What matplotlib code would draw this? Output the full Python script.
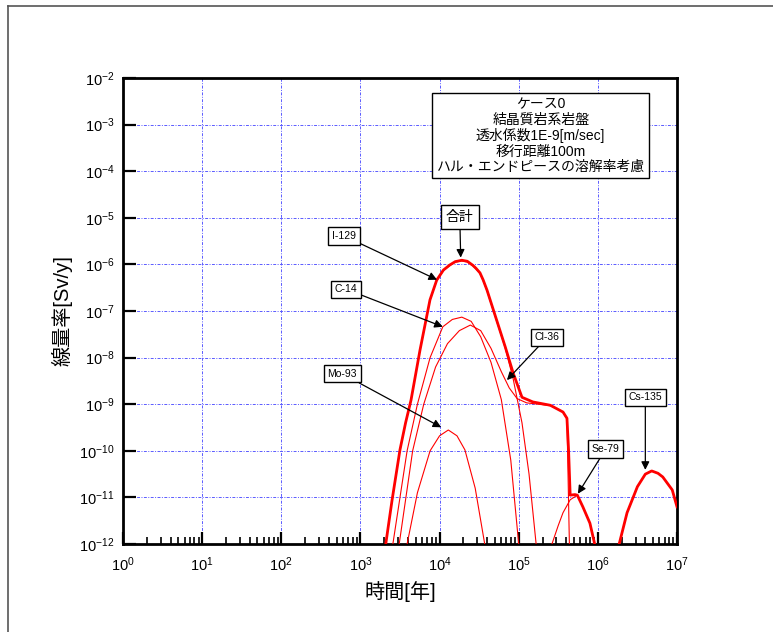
import matplotlib
matplotlib.use('Agg')
import matplotlib.pyplot as plt
from matplotlib.lines import Line2D
from matplotlib.ticker import LogLocator, NullLocator
import numpy as np

plt.rcParams['font.family'] = ['Liberation Sans', 'Noto Sans CJK JP', 'DejaVu Sans']

# ---- data (time [y], dose rate [Sv/y]) ----
total_t = [2090, 2510, 3160, 3720, 4360, 5660, 7570, 9200, 1.12e4, 1.35e4,
           1.58e4, 1.91e4, 2.24e4, 2.63e4, 2.88e4, 3.24e4, 3.55e4, 3.98e4,
           4.79e4, 5.75e4, 6.76e4, 8.51e4, 1.10e5, 1.51e5, 2.51e5, 3.63e5,
           4.07e5, 4.27e5, 4.47e5, 5.13e5, 5.50e5, 6.46e5, 7.94e5, 9.12e5, np.nan,
           1.86e6, 2.34e6, 3.16e6, 3.98e6, 4.79e6, 5.75e6, 6.61e6, 8.71e6, 1.0e7]
total_d = [1e-12, 8.7e-12, 1.05e-10, 3.98e-10, 1.23e-9, 1.45e-8, 1.74e-7,
           4.6e-7, 7.6e-7, 9.77e-7, 1.15e-6, 1.23e-6, 1.17e-6, 9.6e-7, 8.3e-7,
           6.6e-7, 4.68e-7, 2.8e-7, 1.05e-7, 4.0e-8, 1.7e-8, 4.68e-9, 1.41e-9,
           1.12e-9, 9.5e-10, 6.8e-10, 5.0e-10, 1.0e-10, 1.12e-11, 1.15e-11,
           1.12e-11, 6.3e-12, 2.8e-12, 1e-12, np.nan,
           1e-12, 4.7e-12, 1.7e-11, 3.16e-11, 3.7e-11, 3.3e-11, 2.75e-11,
           1.45e-11, 6.3e-12]

i129_t = [2090, 2510, 3160, 3720, 4360, 5660, 7570, 9200, 1.12e4, 1.35e4,
          1.58e4, 1.91e4, 2.24e4, 2.63e4, 2.88e4, 3.24e4, 3.55e4, 3.98e4,
          4.79e4, 5.75e4, 6.76e4, 8.51e4, 1.10e5, 1.35e5, 1.66e5]
i129_d = [1e-12, 8.7e-12, 1.05e-10, 3.98e-10, 1.23e-9, 1.45e-8, 1.7e-7,
          4.5e-7, 7.4e-7, 9.5e-7, 1.12e-6, 1.19e-6, 1.13e-6, 9.3e-7, 8.0e-7,
          6.4e-7, 4.5e-7, 2.7e-7, 1.0e-7, 3.8e-8, 1.6e-8, 3.5e-9, 4.0e-10,
          3.2e-11, 1e-12]

c14_t = [2570, 3890, 5250, 7590, 1.10e4, 1.45e4, 1.91e4, 2.51e4, 3.31e4,
         4.47e4, 6.03e4, 7.94e4, 1.0e5]
c14_d = [1e-12, 1e-10, 1e-9, 1e-8, 4.6e-8, 6.6e-8, 7.4e-8, 6.0e-8, 2.8e-8,
         7.9e-9, 1.26e-9, 6.3e-11, 1e-12]

cl36_t = [3090, 4570, 6310, 8910, 1.26e4, 1.78e4, 2.45e4, 3.31e4, 4.47e4,
          6.03e4, 7.59e4, 9.55e4, 1.26e5, 1.78e5, 2.51e5, 3.63e5, 4.07e5, 4.37e5]
cl36_d = [1e-12, 1e-10, 1e-9, 6.3e-9, 2.0e-8, 3.8e-8, 5.0e-8, 3.8e-8, 1.58e-8,
          5.0e-9, 2.24e-9, 1.32e-9, 1.07e-9, 1.0e-9, 9.3e-10, 6.8e-10, 4.8e-10,
          1e-12]

mo93_t = [3890, 5250, 7590, 1.0e4, 1.29e4, 1.66e4, 2.09e4, 2.82e4, 3.72e4]
mo93_d = [1e-12, 1.26e-11, 1e-10, 2.1e-10, 2.8e-10, 2.1e-10, 1.05e-10, 1.58e-11, 1e-12]

se79_t = [2.63e5, 3.16e5, 3.63e5, 4.47e5, 5.50e5, 6.46e5, 7.94e5, 9.12e5]
se79_d = [1e-12, 2.5e-12, 4.7e-12, 8.9e-12, 1.12e-11, 6.3e-12, 2.8e-12, 1e-12]

cs135_t = [1.86e6, 2.34e6, 3.16e6, 3.98e6, 4.79e6, 5.75e6, 6.61e6, 8.71e6, 1.0e7]
cs135_d = [1e-12, 4.7e-12, 1.7e-11, 3.16e-11, 3.7e-11, 3.3e-11, 2.75e-11, 1.45e-11, 6.3e-12]

# labels: (text, text position, arrow target)
labels = [
    ('合計', (1.8e4, 1.05e-5), (1.85e4, 1.4e-6)),
    ('I-129', (6.2e2, 4.1e-6), (9.3e3, 4.7e-7)),
    ('C-14', (6.6e2, 2.95e-7), (1.1e4, 4.6e-8)),
    ('Cl-36', (2.3e5, 2.75e-8), (7.1e4, 3.3e-9)),
    ('Mo-93', (5.9e2, 4.5e-9), (1.05e4, 3.2e-10)),
    ('Se-79', (1.26e6, 1.1e-10), (5.6e5, 1.2e-11)),
    ('Cs-135', (3.98e6, 1.4e-9), (3.98e6, 3.9e-11)),
]

info_text = 'ケース0\n結晶質岩系岩盤\n透水係数1E-9[m/sec]\n移行距離100m\nハル・エンドピースの溶解率考慮'

fig = plt.figure(figsize=(7.73, 6.32), dpi=100)
ax = fig.add_axes([0.1591, 0.1392, 0.7167, 0.7373])

red = '#ff0000'
for t, d in [(i129_t, i129_d), (c14_t, c14_d), (cl36_t, cl36_d),
             (mo93_t, mo93_d), (se79_t, se79_d), (cs135_t, cs135_d)]:
    ax.plot(t, d, color=red, linewidth=0.8, zorder=3)
ax.plot(total_t, total_d, color=red, linewidth=2.0, zorder=4)

ax.set_xscale('log')
ax.set_yscale('log')
ax.set_xlim(1, 1e7)
ax.set_ylim(1e-12, 1e-2)
ax.set_xticks([10.0**k for k in range(0, 8)])
ax.set_yticks([10.0**k for k in range(-12, -1)])
ax.xaxis.set_minor_locator(LogLocator(base=10, subs=np.arange(2, 10)))
ax.yaxis.set_minor_locator(NullLocator())

ax.grid(True, which='major', color='#5b5bff', linestyle=(0, (3, 1.5, 1, 1.5)),
        linewidth=0.7, zorder=1)
ax.tick_params(which='major', direction='in', length=9, width=1.6,
               labelsize=10.5, top=False, right=False)
ax.tick_params(axis='x', which='major', pad=8)
ax.tick_params(axis='y', which='major', pad=6)
ax.tick_params(which='minor', direction='in', length=5, width=1.2,
               top=False, right=False)
for s in ax.spines.values():
    s.set_linewidth(2.0)

ax.set_xlabel('時間[年]', fontsize=14.5, labelpad=5)
ax.set_ylabel('線量率[Sv/y]', fontsize=14.5, labelpad=5)

for name, xy_text, xy_target in labels:
    ax.annotate(name, xy=xy_target, xytext=xy_text,
                ha='center', va='center',
                fontsize=10 if name == '合計' else 7.5,
                bbox=dict(boxstyle='square,pad=0.35', facecolor='white',
                          edgecolor='black', linewidth=1.0),
                arrowprops=dict(arrowstyle='-|>', color='black', linewidth=0.9,
                                mutation_scale=12, shrinkA=0, shrinkB=0),
                zorder=6)

ax.text(0.754, 0.876, info_text, transform=ax.transAxes, ha='center',
        va='center', fontsize=10, linespacing=1.12, zorder=6,
        bbox=dict(boxstyle='square,pad=0.3', facecolor='white',
                  edgecolor='black', linewidth=1.0))

# outer frame (left and top edges visible)
fig.add_artist(Line2D([8 / 773, 8 / 773], [0, 1 - 6 / 632], color='#555555',
                      linewidth=1.2, transform=fig.transFigure))
fig.add_artist(Line2D([8 / 773, 1], [1 - 6 / 632, 1 - 6 / 632], color='#555555',
                      linewidth=1.2, transform=fig.transFigure))

fig.savefig('out.png', dpi=100, facecolor='white')
